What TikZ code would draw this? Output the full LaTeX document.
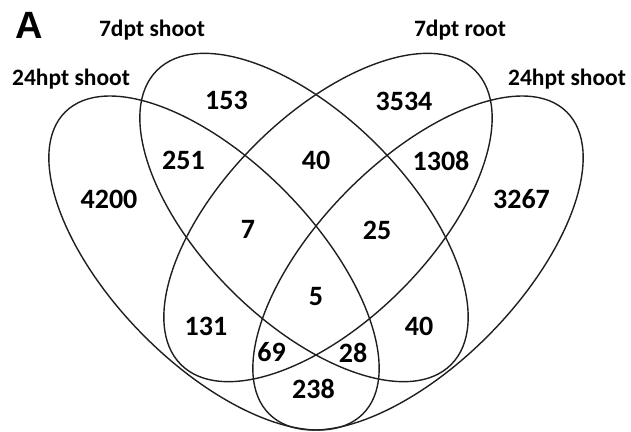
\documentclass[tikz,border=0pt]{standalone}
\usepackage{fontspec}
\setmainfont{Carlito}
\newfontfamily\panelfont{Liberation Sans}
\definecolor{outline}{gray}{0.12}
\tikzset{
  venn/.style={draw=outline, line width=1.4bp},
  count/.style={font=\bfseries\fontsize{28bp}{30bp}\selectfont, inner sep=0pt},
  setname/.style={font=\bfseries\fontsize{23.5bp}{26bp}\selectfont, inner sep=0pt, anchor=base},
}

\begin{document}
\begin{tikzpicture}[x=1bp, y=-1bp]
\useasboundingbox (0, 0) rectangle (631, 431);
% the four sets
\draw[venn, rotate around={-45.5:(214, 263)}] (214, 263) ellipse [x radius=212, y radius=101];
\draw[venn, rotate around={-45:(304, 217.5)}] (304, 217.5) ellipse [x radius=208, y radius=103];
\draw[venn, rotate around={45:(328, 217.5)}] (328, 217.5) ellipse [x radius=208, y radius=103];
\draw[venn, rotate around={45.5:(418, 263)}] (418, 263) ellipse [x radius=212, y radius=101];
% panel letter and set names
\node[font=\panelfont\bfseries\fontsize{38bp}{40bp}\selectfont, inner sep=0pt] (panel) at (29, 25.5) {A};
\node[setname] (hptleft) at (71, 85) {24hpt shoot};
\node[setname] (dptshoot) at (152, 36) {7dpt shoot};
\node[setname] (dptroot) at (460, 36) {7dpt root};
\node[setname] (hptright) at (567, 85) {24hpt shoot};
% counts
\node[count] (only1) at (109, 199) {4200};
\node[count] (only2) at (226.5, 100.5) {153};
\node[count] (only3) at (404, 101) {3534};
\node[count] (only4) at (521.5, 199) {3267};
\node[count] (s12) at (183.5, 160.5) {251};
\node[count] (s23) at (316, 160.5) {40};
\node[count] (s34) at (441, 160.5) {1308};
\node[count] (s123) at (248, 229.5) {7};
\node[count] (s234) at (377, 230) {25};
\node[count] (s1234) at (316, 297) {5};
\node[count] (s13) at (206, 326.5) {131};
\node[count] (s24) at (419, 326.5) {40};
\node[count] (s134) at (271.5, 352.5) {69};
\node[count] (s124) at (353, 353) {28};
\node[count] (s14) at (313.5, 389) {238};
\end{tikzpicture}
\end{document}
